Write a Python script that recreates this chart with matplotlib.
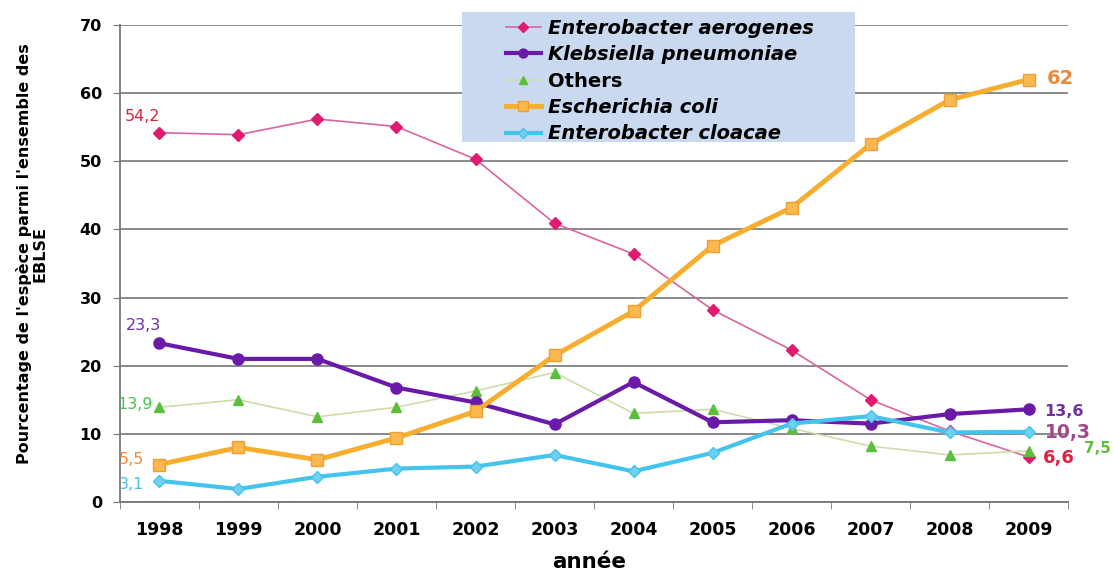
import numpy as np
import matplotlib.pyplot as plt
from matplotlib.patches import Rectangle

plt.rcParams['font.family'] = ['DejaVu Sans']

annees = ['1998', '1999', '2000', '2001', '2002', '2003', '2004', '2005',
          '2006', '2007', '2008', '2009']

# pourcentages par espèce
aerogenes = [54.2, 53.9, 56.2, 55.1, 50.3, 40.9, 36.4, 28.2, 22.3, 15.0, 10.4, 6.6]
pneumoniae = [23.3, 21.0, 21.0, 16.8, 14.6, 11.4, 17.6, 11.7, 12.0, 11.5, 12.9, 13.6]
autres = [13.9, 15.0, 12.5, 13.9, 16.3, 19.0, 13.0, 13.6, 10.8, 8.2, 6.9, 7.5]
coli = [5.5, 8.0, 6.2, 9.4, 13.3, 21.5, 28.0, 37.6, 43.2, 52.5, 59.0, 62.0]
cloacae = [3.1, 1.9, 3.7, 4.9, 5.2, 6.9, 4.5, 7.2, 11.5, 12.6, 10.2, 10.3]

x = np.arange(len(annees))

fig = plt.figure(figsize=(11.13, 5.76), dpi=100)
ax = fig.add_axes([0.1078, 0.1285, 0.8518, 0.8281])

ax.plot(x, aerogenes, color='#d865a0', lw=1.2, marker='D', ms=6,
        mfc='#e01c70', mec='#e01c70', label='Enterobacter aerogenes', zorder=3)
ax.plot(x, pneumoniae, color='#6a1aa8', lw=3, marker='o', ms=8,
        mfc='#6a1aa8', mec='#6a1aa8', label='Klebsiella pneumoniae', zorder=4)
ax.plot(x, autres, color='#cfdcaa', lw=1.2, marker='^', ms=7,
        mfc='#5cbf3c', mec='#5cbf3c', label='Others', zorder=3)
ax.plot(x, coli, color='#f7ad2e', lw=3.5, marker='s', ms=9,
        mfc='#f9b850', mec='#f0a030', label='Escherichia coli', zorder=4)
ax.plot(x, cloacae, color='#44c4ec', lw=3, marker='D', ms=6,
        mfc='#6fd0f0', mec='#44c4ec', label='Enterobacter cloacae', zorder=4)

# valeurs de début (à gauche)
debut = [(aerogenes, '#d8243c', (-17, 16)), (pneumoniae, '#7030a0', (-16, 18)),
         (autres, '#4cbf4c', (-24, 3)), (coli, '#f08c3c', (-28, 5)),
         (cloacae, '#4cc0e8', (-28, -4))]
for serie, c, off in debut:
    ax.annotate(f'{serie[0]:g}'.replace('.', ','), (x[0], serie[0]), xytext=off,
                textcoords='offset pixels', color=c, fontsize=11.5,
                ha='center', va='center')

# valeurs de fin (à droite)
fin = [(coli, '#e88a3a', (32, 1), 14), (pneumoniae, '#7030a0', (35, -2), 11.5),
       (cloacae, '#a04a8c', (39, -1), 13.5), (aerogenes, '#e0203c', (30, -1), 13),
       (autres, '#5cbf3c', (69, 2), 11)]
for serie, c, off, fs in fin:
    ax.annotate(f'{serie[-1]:g}'.replace('.', ','), (x[-1], serie[-1]), xytext=off,
                textcoords='offset pixels', color=c, fontsize=fs, fontweight='bold',
                ha='center', va='center', annotation_clip=False)

ax.set_xlim(-0.5, 11.5)
ax.set_ylim(0, 70)
ax.set_yticks(range(0, 71, 10))
ax.set_xticks(x)
ax.set_xticklabels(annees, fontsize=12.5, fontweight='bold')
ax.set_xticks(np.arange(-0.5, 12, 1), minor=True)
ax.tick_params(axis='x', which='major', length=0, pad=14)
ax.tick_params(axis='x', which='minor', length=5, color='#777777', direction='out')
ax.tick_params(axis='y', length=5, color='#777777', labelsize=11.5, pad=8)
for lab in ax.get_yticklabels():
    lab.set_fontweight('bold')

ax.grid(axis='y', color='#8a8a8a', lw=1.4)
ax.set_axisbelow(True)
for s in ['top', 'right']:
    ax.spines[s].set_visible(False)
for s in ['left', 'bottom']:
    ax.spines[s].set_color('#777777')
    ax.spines[s].set_linewidth(1.3)

ax.set_xlabel('année', fontsize=15.5, fontweight='bold')
ax.xaxis.set_label_coords(0.495, -0.105)
ax.set_ylabel("Pourcentage de l'espèce parmi l'ensemble des\nEBLSE",
              fontsize=11.5, fontweight='bold', linespacing=1.05)
ax.yaxis.set_label_coords(-0.076, 0.52)

# fond bleu de la légende, au-dessus des courbes
ax.add_patch(Rectangle((0.415, 0.7535), 0.353, 0.2257,
                       transform=fig.transFigure, facecolor='#c9d9ef',
                       edgecolor='none', zorder=8, clip_on=False))

leg = ax.legend(loc='upper left', bbox_to_anchor=(0.451, 0.974),
                bbox_transform=fig.transFigure, frameon=False,
                prop={'size': 14, 'weight': 'bold'},
                labelspacing=0.38, handlelength=1.8, handletextpad=0.35,
                borderpad=0.2, borderaxespad=0, markerscale=0.8)
for t in leg.get_texts():
    if t.get_text() != 'Others':
        t.set_style('italic')
leg.set_zorder(10)

fig.savefig('out.png', dpi=100)
